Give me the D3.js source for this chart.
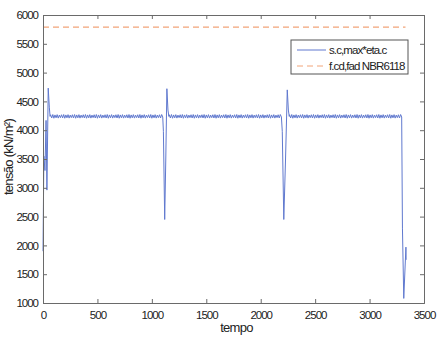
<!DOCTYPE html>
<html><head><meta charset="utf-8">
<script src="https://cdn.jsdelivr.net/npm/d3@7"></script>
<style>
body{margin:0;background:#fff;}
text{font-family:"Liberation Sans",Arial,sans-serif;fill:#222;}
</style></head><body>
<svg id="c" width="441" height="340"></svg>
<script>
const xTicks=[0,500,1000,1500,2000,2500,3000,3500];
const yTicks=[1000,1500,2000,2500,3000,3500,4000,4500,5000,5500,6000];
const seriesNames=["s.c,max*eta.c","f.cd,fad NBR6118"];
const limitLine=[[0,5790],[3330,5790]];
const startPart=[[0,1900],[8,3550],[18,3300],[28,4170],[36,2960],[48,4730],[58,4400],[65,4240]];
const plateau1=[[70,4268],[80,4212],[90,4272],[100,4208],[110,4265],[120,4215],[130,4270],[140,4210],[150,4262],[160,4218],[170,4268],[180,4212],[190,4272],[200,4208],[210,4265],[220,4215],[230,4270],[240,4210],[250,4262],[260,4218],[270,4268],[280,4212],[290,4272],[300,4208],[310,4265],[320,4215],[330,4270],[340,4210],[350,4262],[360,4218],[370,4268],[380,4212],[390,4272],[400,4208],[410,4265],[420,4215],[430,4270],[440,4210],[450,4262],[460,4218],[470,4268],[480,4212],[490,4272],[500,4208],[510,4265],[520,4215],[530,4270],[540,4210],[550,4262],[560,4218],[570,4268],[580,4212],[590,4272],[600,4208],[610,4265],[620,4215],[630,4270],[640,4210],[650,4262],[660,4218],[670,4268],[680,4212],[690,4272],[700,4208],[710,4265],[720,4215],[730,4270],[740,4210],[750,4262],[760,4218],[770,4268],[780,4212],[790,4272],[800,4208],[810,4265],[820,4215],[830,4270],[840,4210],[850,4262],[860,4218],[870,4268],[880,4212],[890,4272],[900,4208],[910,4265],[920,4215],[930,4270],[940,4210],[950,4262],[960,4218],[970,4268],[980,4212],[990,4272],[1000,4208],[1010,4265],[1020,4215],[1030,4270],[1040,4210],[1050,4262],[1060,4218],[1070,4268],[1080,4212],[1090,4272],[1100,4230]];
const spike2=[[1106,3980],[1118,2450],[1128,3500],[1138,4720],[1148,4350],[1156,4240]];
const plateau2=[[1160,4268],[1170,4212],[1180,4272],[1190,4208],[1200,4265],[1210,4215],[1220,4270],[1230,4210],[1240,4262],[1250,4218],[1260,4268],[1270,4212],[1280,4272],[1290,4208],[1300,4265],[1310,4215],[1320,4270],[1330,4210],[1340,4262],[1350,4218],[1360,4268],[1370,4212],[1380,4272],[1390,4208],[1400,4265],[1410,4215],[1420,4270],[1430,4210],[1440,4262],[1450,4218],[1460,4268],[1470,4212],[1480,4272],[1490,4208],[1500,4265],[1510,4215],[1520,4270],[1530,4210],[1540,4262],[1550,4218],[1560,4268],[1570,4212],[1580,4272],[1590,4208],[1600,4265],[1610,4215],[1620,4270],[1630,4210],[1640,4262],[1650,4218],[1660,4268],[1670,4212],[1680,4272],[1690,4208],[1700,4265],[1710,4215],[1720,4270],[1730,4210],[1740,4262],[1750,4218],[1760,4268],[1770,4212],[1780,4272],[1790,4208],[1800,4265],[1810,4215],[1820,4270],[1830,4210],[1840,4262],[1850,4218],[1860,4268],[1870,4212],[1880,4272],[1890,4208],[1900,4265],[1910,4215],[1920,4270],[1930,4210],[1940,4262],[1950,4218],[1960,4268],[1970,4212],[1980,4272],[1990,4208],[2000,4265],[2010,4215],[2020,4270],[2030,4210],[2040,4262],[2050,4218],[2060,4268],[2070,4212],[2080,4272],[2090,4208],[2100,4265],[2110,4215],[2120,4270],[2130,4210],[2140,4262],[2150,4218],[2160,4268],[2170,4212],[2180,4272],[2190,4230]];
const spike3=[[2198,3980],[2212,2450],[2228,3500],[2244,4700],[2254,4350],[2262,4240]];
const plateau3=[[2265,4268],[2275,4212],[2285,4272],[2295,4208],[2305,4265],[2315,4215],[2325,4270],[2335,4210],[2345,4262],[2355,4218],[2365,4268],[2375,4212],[2385,4272],[2395,4208],[2405,4265],[2415,4215],[2425,4270],[2435,4210],[2445,4262],[2455,4218],[2465,4268],[2475,4212],[2485,4272],[2495,4208],[2505,4265],[2515,4215],[2525,4270],[2535,4210],[2545,4262],[2555,4218],[2565,4268],[2575,4212],[2585,4272],[2595,4208],[2605,4265],[2615,4215],[2625,4270],[2635,4210],[2645,4262],[2655,4218],[2665,4268],[2675,4212],[2685,4272],[2695,4208],[2705,4265],[2715,4215],[2725,4270],[2735,4210],[2745,4262],[2755,4218],[2765,4268],[2775,4212],[2785,4272],[2795,4208],[2805,4265],[2815,4215],[2825,4270],[2835,4210],[2845,4262],[2855,4218],[2865,4268],[2875,4212],[2885,4272],[2895,4208],[2905,4265],[2915,4215],[2925,4270],[2935,4210],[2945,4262],[2955,4218],[2965,4268],[2975,4212],[2985,4272],[2995,4208],[3005,4265],[3015,4215],[3025,4270],[3035,4210],[3045,4262],[3055,4218],[3065,4268],[3075,4212],[3085,4272],[3095,4208],[3105,4265],[3115,4215],[3125,4270],[3135,4210],[3145,4262],[3155,4218],[3165,4268],[3175,4212],[3185,4272],[3195,4208],[3205,4265],[3215,4215],[3225,4270],[3235,4210],[3245,4262],[3255,4218],[3265,4268],[3275,4212],[3285,4272],[3295,4230]];
const endPart=[[3302,2300],[3314,1080],[3334,1970],[3336,1750]];
const tensao=[].concat(startPart,plateau1,spike2,plateau2,spike3,plateau3,endPart);

const svg=d3.select("#c");
const L=43,R=424,T=15,B=303;
const x=d3.scaleLinear().domain([0,3500]).range([L,R]);
const y=d3.scaleLinear().domain([1000,6000]).range([B,T]);
const axisColor="#6a6a6a";

svg.append("path").datum(limitLine)
  .attr("d",d3.line().x(d=>x(d[0])).y(d=>y(d[1])))
  .attr("fill","none").attr("stroke","#f2a478").attr("stroke-width",1.2).attr("stroke-dasharray","6,4");
svg.append("path").datum(tensao)
  .attr("d",d3.line().x(d=>x(d[0])).y(d=>y(d[1])))
  .attr("fill","none").attr("stroke","#6079cf").attr("stroke-width",1);

function styleAxis(g){
  g.select(".domain").attr("stroke",axisColor);
  g.selectAll(".tick line").attr("stroke",axisColor);
  g.selectAll("text").attr("fill","#1a1a1a").style("font-family","Liberation Sans, Arial, sans-serif")
   .style("font-size","11.5px").style("letter-spacing","-1px");
}
const gx=svg.append("g").attr("transform",`translate(0,${B})`)
  .call(d3.axisBottom(x).tickValues(xTicks).tickSize(-4).tickPadding(6).tickFormat(d3.format("d")));
styleAxis(gx); gx.selectAll("text").attr("dy","0.85em");
const gy=svg.append("g").attr("transform",`translate(${L},0)`)
  .call(d3.axisLeft(y).tickValues(yTicks).tickSize(-4).tickPadding(5).tickFormat(d3.format("d")));
styleAxis(gy);
const gt=svg.append("g").attr("transform",`translate(0,${T})`)
  .call(d3.axisTop(x).tickValues(xTicks).tickSize(-4).tickFormat(""));
styleAxis(gt);
const gr=svg.append("g").attr("transform",`translate(${R},0)`)
  .call(d3.axisRight(y).tickValues(yTicks).tickSize(-4).tickFormat(""));
styleAxis(gr);

svg.append("text").attr("x",(L+R)/2+3).attr("y",332).attr("text-anchor","middle")
  .style("font-size","13px").style("letter-spacing","-0.7px").text("tempo");
svg.append("text").attr("transform","translate(13,157) rotate(-90)").attr("text-anchor","middle")
  .style("font-size","13px").style("letter-spacing","-0.7px").text("tensão (kN/m²)");

const lg=svg.append("g");
lg.append("rect").attr("x",291).attr("y",40).attr("width",117).attr("height",34)
  .attr("fill","#fff").attr("stroke","#555").attr("stroke-width",1);
const legColors=["#6079cf","#f2a478"],legDash=[null,"6,4"];
seriesNames.forEach((n,i)=>{
  const yy=50+i*16;
  lg.append("line").attr("x1",297).attr("x2",326).attr("y1",yy).attr("y2",yy)
    .attr("stroke",legColors[i]).attr("stroke-width",1).attr("stroke-dasharray",legDash[i]);
  lg.append("text").attr("x",329).attr("y",yy+4).style("font-size","11.5px").style("letter-spacing","-0.9px").text(n);
});
</script></body></html>
